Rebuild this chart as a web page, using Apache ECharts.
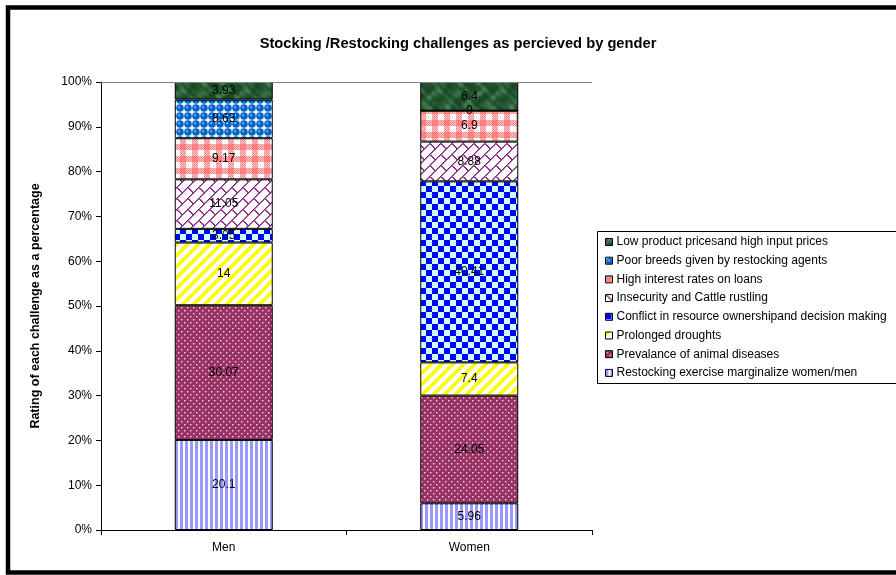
<!DOCTYPE html>
<html>
<head>
<meta charset="utf-8">
<title>Stocking /Restocking challenges as percieved by gender</title>
<script src="https://cdn.jsdelivr.net/npm/echarts@6/dist/echarts.min.js"></script>
<style>
  html, body { margin: 0; padding: 0; background: #fff; }
  #chart { width: 896px; height: 575px; }
</style>
</head>
<body>
<div id="chart"></div>
<script>
// Categories and series (percent of respondents per challenge)
const categories = ['Men', 'Women'];
const seriesNames = [
  'Restocking exercise marginalize women/men',
  'Prevalance of animal diseases',
  'Prolonged droughts',
  'Conflict in resource ownershipand decision making',
  'Insecurity and Cattle rustling',
  'High interest rates on loans',
  'Poor breeds given by restocking agents',
  'Low product pricesand high input prices'
];
const restocking = [20.1, 5.96];
const diseases   = [30.07, 24.05];
const droughts   = [14, 7.4];
const conflict   = [3.05, 40.41];
const insecurity = [11.05, 8.88];
const interest   = [9.17, 6.9];
const breeds     = [8.63, 0];
const prices     = [3.93, 6.4];
const yTicks = [0, 10, 20, 30, 40, 50, 60, 70, 80, 90, 100];

const FONT = '"Liberation Sans", Arial, sans-serif';

// ---- fill patterns -------------------------------------------------------
function tile(w, h, draw) {
  const c = document.createElement('canvas');
  c.width = w; c.height = h;
  const ctx = c.getContext('2d');
  draw(ctx, w, h);
  return { image: c, repeat: 'repeat' };
}
function pixels(w, h, fn) {
  return tile(w, h, (ctx) => {
    const img = ctx.createImageData(w, h);
    for (let y = 0; y < h; y++) {
      for (let x = 0; x < w; x++) {
        const c = fn(x, y);
        const i = (y * w + x) * 4;
        img.data[i] = c[0]; img.data[i + 1] = c[1]; img.data[i + 2] = c[2]; img.data[i + 3] = 255;
      }
    }
    ctx.putImageData(img, 0, 0);
  });
}
const WHITE = [255, 255, 255];

// vertical lavender stripes
const patStripes = pixels(5, 5, (x) => (x < 3 ? [153, 153, 255] : WHITE));

// maroon with small light dots
const patDots = tile(6, 6, (ctx) => {
  ctx.fillStyle = '#993366'; ctx.fillRect(0, 0, 6, 6);
  ctx.fillStyle = '#f2d9e6';
  ctx.fillRect(1, 1, 1.4, 1.4);
  ctx.fillRect(4, 4, 1.4, 1.4);
});

// yellow diagonal stripes
const patDiag = pixels(11, 11, (x, y) => (((x + y) % 11) < 5 ? [255, 255, 0] : WHITE));

// blue / light cyan checkerboard
const patChecker = pixels(12, 12, (x, y) => {
  const a = Math.floor(x / 6) + Math.floor(y / 6);
  return a % 2 === 0 ? [0, 0, 255] : [204, 255, 255];
});

// purple diagonal brick lattice on white
const patLattice = pixels(22, 22, (x, y) => {
  const u = x + y;
  const k = Math.floor(u / 11);
  const r = u % 11;
  const v = ((x - y - (k % 2) * 11) % 22 + 22) % 22;
  if (r === 0) return [128, 32, 128];
  if (r === 1) return [176, 110, 176];
  if (v === 0 || v === 1) return [140, 50, 140];
  return WHITE;
});

// pink gingham
const patGingham = pixels(12, 12, (x, y) => {
  const bx = x < 6, by = y < 6;
  if (bx && by) return [255, 128, 128];
  if (bx || by) return ((x + y) % 2 === 0) ? [255, 128, 128] : [255, 205, 205];
  return WHITE;
});

// blue beads
const patBeads = tile(8, 8, (ctx) => {
  ctx.fillStyle = '#ffffff'; ctx.fillRect(0, 0, 8, 8);
  ctx.fillStyle = '#0066cc';
  ctx.beginPath(); ctx.arc(4, 4, 3.8, 0, Math.PI * 2); ctx.fill();
  ctx.fillStyle = '#cfe3ff';
  ctx.fillRect(2.5, 2.5, 1.5, 1.5);
});

// dark green mottled marble
const patMarble = pixels(64, 64, (x, y) => {
  const P = Math.PI * 2 / 64;
  const t = Math.sin(x * P * 3 + Math.sin(y * P * 2) * 2.2)
          + 0.7 * Math.sin(y * P * 5 + Math.sin(x * P * 4) * 1.5)
          + 0.5 * Math.sin((x - y) * P * 7);
  const s = Math.max(0, Math.min(1, (t + 2.2) / 4.4));
  const q = s * s;
  return [Math.round(26 + 50 * q), Math.round(70 + 70 * q), Math.round(38 + 48 * q)];
});

const fills = [patStripes, patDots, patDiag, patChecker, patLattice, patGingham, patBeads, patMarble];
const values = [restocking, diseases, droughts, conflict, insecurity, interest, breeds, prices];

const series = seriesNames.map((name, i) => ({
  name: name,
  type: 'bar',
  stack: 'total',
  barWidth: 98,
  data: values[i],
  itemStyle: { color: fills[i], borderColor: '#000', borderWidth: 1 },
  label: {
    show: true,
    position: 'inside',
    color: '#000',
    fontFamily: FONT,
    fontSize: 12,
    formatter: (p) => String(p.value)
  },
  emphasis: { disabled: true },
  animation: false
}));

// top boundary of the plot at 100%
series[0].markLine = {
  silent: true,
  symbol: 'none',
  label: { show: false },
  lineStyle: { color: '#808080', width: 1, type: 'solid' },
  data: [{ yAxis: 100 }]
};

const chart = echarts.init(document.getElementById('chart'), null, { renderer: 'canvas' });
chart.setOption({
  animation: false,
  backgroundColor: '#fff',
  title: {
    text: 'Stocking /Restocking challenges as percieved by gender',
    left: 453,
    top: 31,
    textAlign: 'center',
    textStyle: { fontFamily: FONT, fontSize: 14.7, fontWeight: 'bold', color: '#000' }
  },
  grid: { left: 101, right: 304, top: 82, bottom: 45, containLabel: false },
  xAxis: {
    type: 'category',
    data: categories,
    axisLine: { lineStyle: { color: '#000', width: 1 } },
    axisTick: { show: true, length: 5, lineStyle: { color: '#000' } },
    axisLabel: { fontFamily: FONT, fontSize: 12, color: '#000', margin: 12 }
  },
  yAxis: {
    type: 'value',
    min: yTicks[0],
    max: yTicks[yTicks.length - 1],
    interval: yTicks[1] - yTicks[0],
    name: 'Rating of each challenge as a percentage',
    nameLocation: 'middle',
    nameRotate: 90,
    nameGap: 59,
    nameTextStyle: { fontFamily: FONT, fontSize: 12.5, fontWeight: 'bold', color: '#000' },
    axisLine: { show: true, lineStyle: { color: '#000', width: 1 } },
    axisTick: { show: true, length: 5, lineStyle: { color: '#000' } },
    splitLine: { show: false },
    axisLabel: { fontFamily: FONT, fontSize: 12, color: '#000', margin: 9, formatter: '{value}%' }
  },
  legend: {
    orient: 'vertical',
    left: 600,
    top: 231,
    itemWidth: 7,
    itemHeight: 7,
    itemGap: 6.7,
    icon: 'rect',
    selectedMode: false,
    data: seriesNames.slice().reverse(),
    itemStyle: { borderColor: '#000', borderWidth: 1 },
    textStyle: { fontFamily: FONT, fontSize: 12, color: '#000', lineHeight: 12, padding: [0, 0, 0, -1] }
  },
  graphic: [
    {
      type: 'rect',
      shape: { x: 597.5, y: 231.5, width: 320, height: 152 },
      style: { fill: null, stroke: '#000', lineWidth: 1 },
      silent: true,
      z: 10
    },
    {
      type: 'rect',
      shape: { x: 8, y: 7.5, width: 1000, height: 565 },
      style: { fill: null, stroke: '#000', lineWidth: 4.5 },
      silent: true,
      z: 10
    }
  ],
  series: series
});
</script>
</body>
</html>
